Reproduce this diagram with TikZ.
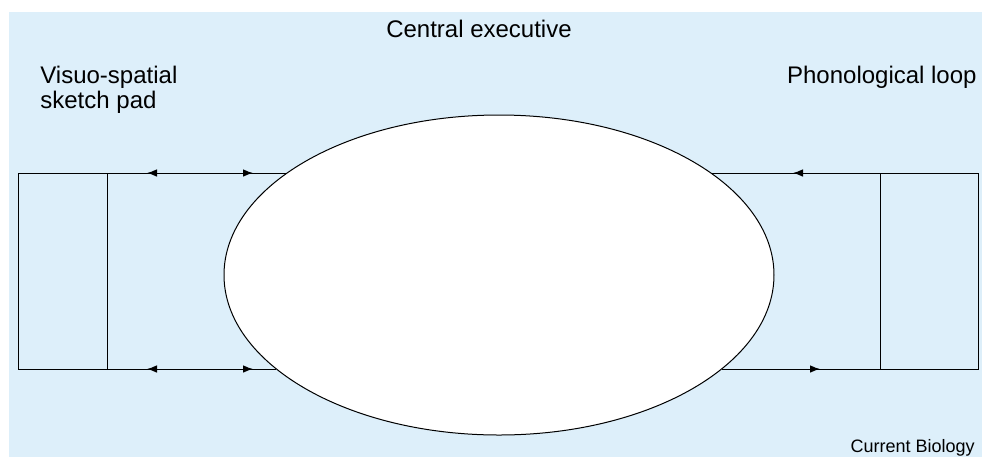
\documentclass[tikz,border=0pt]{standalone}
\usepackage{fontspec}
\setmainfont{Liberation Sans}
\usetikzlibrary{shapes.geometric,arrows.meta,decorations.markings}
\definecolor{panel}{HTML}{DDEFFA}
\tikzset{
  store/.style={draw, rectangle, minimum height=98pt, inner sep=0pt, outer sep=0pt},
  link/.style={draw, line width=0.5pt},
  twoway/.style={link, decoration={markings,
      mark=at position 25pt with {\arrow{<}},
      mark=at position 73pt with {\arrow{>}}}, postaction={decorate}},
  oneway/.style={link, decoration={markings,
      mark=at position #1 with {\arrow{>}}}, postaction={decorate}},
  label/.style={font=\fontsize{12}{12.5}\selectfont, inner sep=0pt}
}
\begin{document}
\begin{tikzpicture}[x=0.5pt, y=-0.5pt, >={Latex[length=5pt,width=3.8pt]}]
  \useasboundingbox (0,0) rectangle (982,457);
  \fill[panel] (9,12) rectangle (982,457);
  % the three parts of the model
  \node[draw, ellipse, fill=white, line width=0.5pt, minimum width=275pt, minimum height=160pt,
        inner sep=0pt, outer sep=0pt] (CE) at (499,275) {};
  \node[store, minimum width=44.5pt] (VS) at (62.5,271) {};
  \node[store, minimum width=49pt] (PL) at (929,271) {};
  % where the links meet the ellipse
  \coordinate (VSup) at (287,173);
  \coordinate (VSdn) at (276,369);
  \coordinate (PLup) at (711,173);
  \coordinate (PLdn) at (722,369);
  \draw[twoway] (VS.north east) -- (VSup);
  \draw[twoway] (VS.south east) -- (VSdn);
  \draw[oneway=43.5pt] (PL.north west) -- (PLup);
  \draw[oneway=49pt] (PLdn) -- (PL.south west);
  % labels
  \node[label, anchor=base] (CElabel) at (479,37) {Central executive};
  \node[label, anchor=base west, align=left] (VSlabel) at (40,108) {Visuo-spatial\\sketch pad};
  \node[label, anchor=base east] (PLlabel) at (977,83) {Phonological loop};
  \node[font=\fontsize{9}{10}\selectfont, inner sep=0pt, anchor=base east] (source) at (975,452) {Current Biology};
\end{tikzpicture}
\end{document}
